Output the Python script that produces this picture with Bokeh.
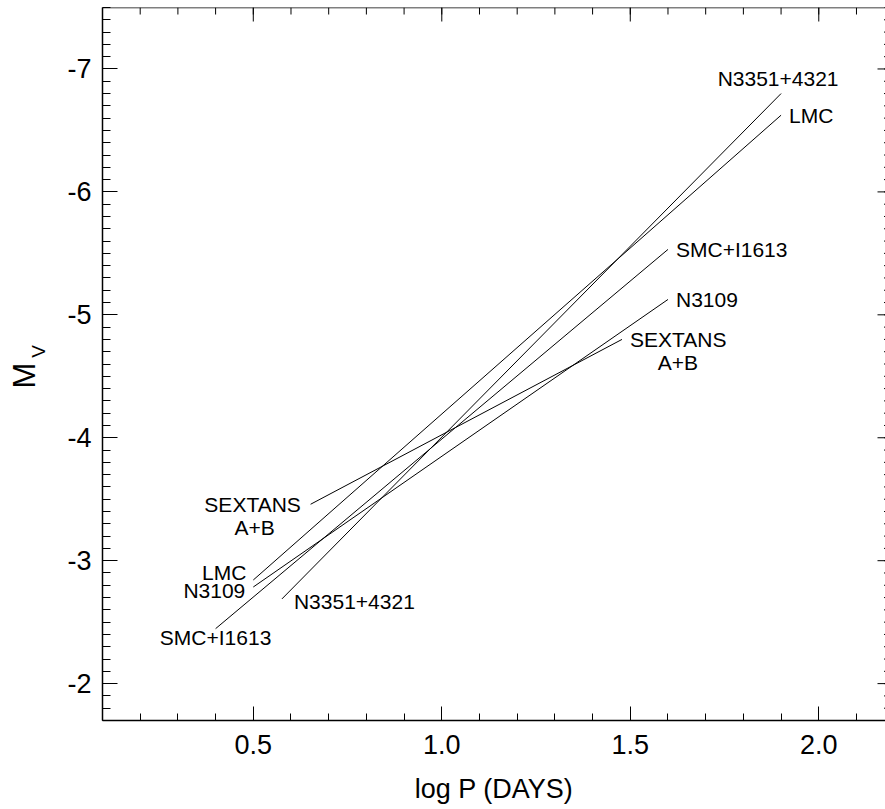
import numpy as np
from bokeh.plotting import figure
from bokeh.layouts import row
from bokeh.models import (Range1d, FixedTicker, Span,
                          ColumnDataSource, NumeralTickFormatter)
from bokeh.embed import file_html
from bokeh.resources import INLINE
from bokeh.core.properties import value

# ---- data ----
names = ["LMC", "N3351+4321", "SMC+I1613", "N3109", "SEXTANS"]
logp_start = [0.50, 0.576, 0.40, 0.50, 0.652]
logp_end = [1.90, 1.90, 1.60, 1.60, 1.478]
mv_start = [-2.843, -2.689, -2.447, -2.786, -3.459]
mv_end = [-6.624, -6.800, -5.532, -5.125, -4.800]

x_ticks = [0.5, 1.0, 1.5, 2.0]
y_ticks = [-7, -6, -5, -4, -3, -2]
x_range = (0.1, 2.177)
y_range = (-1.7, -7.5)

FONT = "Liberation Sans"
W, H = 885, 809
TITLE_W = 50
FRAME_TOP, FRAME_BOTTOM, FRAME_LEFT = 7, 720, 102

# ---- narrow panel holding the rotated y title  M_V ----
# (its frame is aligned with the main plot frame by the row layout, so its
#  y range is expressed in page pixels between the frame edges)
t = figure(width=TITLE_W, height=H, x_range=Range1d(0, TITLE_W),
           y_range=Range1d(FRAME_BOTTOM, FRAME_TOP),
           x_axis_type=None, y_axis_type=None,
           output_backend="svg", toolbar_location=None,
           min_border=0, min_border_left=0, min_border_right=0,
           min_border_top=FRAME_TOP, min_border_bottom=H - FRAME_BOTTOM)
t.grid.visible = False
t.outline_line_color = None
t.background_fill_color = "white"
t.border_fill_color = "white"
t.text(x=[24], y=[375], text=["M"], angle=np.pi / 2, text_align="center",
       text_baseline="middle", text_font=value(FONT), text_font_size="31px", text_color="black")
t.text(x=[38], y=[351], text=["V"], angle=np.pi / 2, text_align="center",
       text_baseline="middle", text_font=value(FONT), text_font_size="19px", text_color="black")

# ---- main plot ----
p = figure(width=W - TITLE_W, height=H, x_range=Range1d(*x_range), y_range=Range1d(*y_range),
           output_backend="svg", toolbar_location=None,
           min_border_left=FRAME_LEFT - TITLE_W, min_border_right=0,
           min_border_top=FRAME_TOP, min_border_bottom=H - FRAME_BOTTOM)
p.xgrid.visible = False
p.ygrid.visible = False
p.outline_line_color = None
p.background_fill_color = "white"
p.border_fill_color = "white"

x_minor = [round(v, 2) for v in np.arange(0.1, 2.21, 0.1)]
y_minor = [round(v, 2) for v in np.arange(-7.5, -1.65, 0.1)]


def style_axis(ax, ticks, minor, tick_in, minor_in):
    ax.ticker = FixedTicker(ticks=ticks, minor_ticks=minor)
    ax.major_tick_in = tick_in
    ax.major_tick_out = 0
    ax.minor_tick_in = minor_in
    ax.minor_tick_out = 0
    ax.major_tick_line_color = "black"
    ax.minor_tick_line_color = "black"
    ax.major_tick_line_width = 1
    ax.minor_tick_line_width = 1
    ax.axis_line_color = "black"
    ax.axis_line_width = 1.5
    ax.major_label_text_font = FONT
    ax.major_label_text_font_size = "27px"
    ax.major_label_text_color = "black"


xa = p.xaxis[0]
style_axis(xa, x_ticks, x_minor, 14, 7)
xa.formatter = NumeralTickFormatter(format="0.0")
xa.major_label_standoff = 14
xa.axis_label = "log P (DAYS)"
xa.axis_label_text_font = FONT
xa.axis_label_text_font_size = "27px"
xa.axis_label_text_font_style = "normal"
xa.axis_label_text_color = "black"
xa.axis_label_standoff = 17

ya = p.yaxis[0]
style_axis(ya, y_ticks, y_minor, 15, 8)
ya.formatter = NumeralTickFormatter(format="0")
ya.major_label_standoff = 11

# top frame line and inward ticks on the top and right edges
p.add_layout(Span(location=y_range[1], dimension="width", line_color="black", line_width=1.5))
p.ray(x=x_ticks, y=[y_range[1]] * len(x_ticks), length=14, length_units="screen",
      angle=-np.pi / 2, line_color="black", line_width=1)
p.ray(x=x_minor, y=[y_range[1]] * len(x_minor), length=7, length_units="screen",
      angle=-np.pi / 2, line_color="black", line_width=1)
p.ray(x=[x_range[1]] * len(y_ticks), y=y_ticks, length=8, length_units="screen",
      angle=np.pi, line_color="black", line_width=1)
p.ray(x=[x_range[1]] * len(y_minor), y=y_minor, length=1.5, length_units="screen",
      angle=np.pi, line_color="black", line_width=1)

src = ColumnDataSource(dict(x0=logp_start, y0=mv_start, x1=logp_end, y1=mv_end, name=names))
p.segment(x0="x0", y0="y0", x1="x1", y1="y1", source=src, line_color="black", line_width=1)

# label placement: (text, which end, x_offset, y_offset, align)
label_specs = {
    "LMC": [("LMC", "end", 8, 0, "left"), ("LMC", "start", -7, -7, "right")],
    "N3351+4321": [("N3351+4321", "end", -3, -15, "center"),
                   ("N3351+4321", "start", 12, 3, "left")],
    "SMC+I1613": [("SMC+I1613", "end", 8, 0, "left"),
                  ("SMC+I1613", "start", 0, 9, "center")],
    "N3109": [("N3109", "end", 8, 0, "left"), ("N3109", "start", -8, 4, "right")],
    "SEXTANS": [("SEXTANS", "end", 8, 0, "left"), ("A+B", "end", 56, 23, "center"),
                ("SEXTANS", "start", -58, 0, "center"), ("A+B", "start", -56, 23, "center")],
}

for i, nm in enumerate(names):
    for (txt, which, dx, dy, al) in label_specs[nm]:
        xx = logp_end[i] if which == "end" else logp_start[i]
        yy = mv_end[i] if which == "end" else mv_start[i]
        p.text(x=[xx], y=[yy], text=[txt], x_offset=dx, y_offset=dy,
               text_align=al, text_baseline="middle", text_font=value(FONT),
               text_font_size="21px", text_color="black")

layout = row(t, p, spacing=0)
open("out.html", "w").write(file_html(layout, INLINE))
